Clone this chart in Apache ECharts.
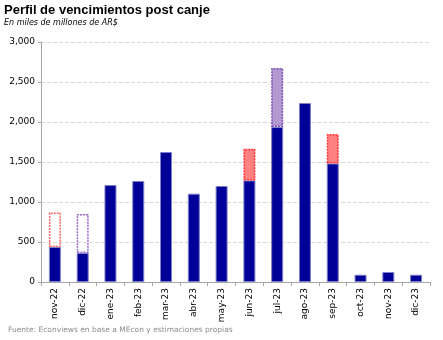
<!DOCTYPE html>
<html>
<head>
<meta charset="utf-8">
<script src="https://cdn.jsdelivr.net/npm/echarts@6/dist/echarts.min.js"></script>
<style>
html,body{margin:0;padding:0;background:#fff;}
#c{width:443px;height:340px;}
</style>
</head>
<body>
<div id="c"></div>
<script>
const categories = ['nov-22','dic-22','ene-23','feb-23','mar-23','abr-23','may-23','jun-23','jul-23','ago-23','sep-23','oct-23','nov-23','dic-23'];
const baseValues = [437, 362, 1212, 1262, 1625, 1104, 1200, 1270, 1937, 2237, 1482, 91, 125, 91];
const redOutline = [433, '-', '-', '-', '-', '-', '-', '-', '-', '-', '-', '-', '-', '-'];
const purpleOutline = ['-', 488, '-', '-', '-', '-', '-', '-', '-', '-', '-', '-', '-', '-'];
const redFill = ['-', '-', '-', '-', '-', '-', '-', 396, '-', '-', 368, '-', '-', '-'];
const purpleFill = ['-', '-', '-', '-', '-', '-', '-', '-', 738, '-', '-', '-', '-', '-'];
const yTicks = [0, 500, 1000, 1500, 2000, 2500, 3000];

const chart = echarts.init(document.getElementById('c'));
const font = 'Verdana, "DejaVu Sans", sans-serif';
const bw = 12;
chart.setOption({
  animation: false,
  textStyle: {fontFamily: font},
  title: [
    {text: 'Perfil de vencimientos post canje', left: 4, top: 4, padding: 0,
     textStyle: {fontFamily: '"Liberation Sans", Arial, sans-serif', fontSize: 13, fontWeight: 'bold', color: '#000'}},
    {text: 'En miles de millones de AR$', left: 4, top: 19, padding: 0,
     textStyle: {fontFamily: font, fontSize: 8, fontStyle: 'italic', fontWeight: 'normal', color: '#000'}},
    {text: 'Fuente: Econviews en base a MEcon y estimaciones propias', left: 8, top: 326, padding: 0,
     textStyle: {fontFamily: font, fontSize: 7.5, fontWeight: 'normal', color: '#8c8c8c'}}
  ],
  grid: {left: 41, right: 13, top: 42, bottom: 58},
  xAxis: {
    type: 'category', data: categories,
    axisLine: {lineStyle: {color: '#a6a6a6'}},
    axisTick: {show: true, length: 4, lineStyle: {color: '#a6a6a6'}},
    axisLabel: {rotate: 90, fontSize: 9, color: '#000', margin: 6, fontFamily: font}
  },
  yAxis: {
    type: 'value', min: yTicks[0], max: yTicks[yTicks.length - 1], interval: 500,
    axisLine: {show: true, lineStyle: {color: '#a6a6a6'}},
    axisTick: {show: true, length: 3, lineStyle: {color: '#a6a6a6'}},
    axisLabel: {fontSize: 9, color: '#000', margin: 6, fontFamily: font,
      formatter: v => v.toLocaleString('en-US')},
    splitLine: {lineStyle: {color: '#d9d9d9', type: [4, 2]}}
  },
  series: [
    {type: 'bar', stack: 's', data: baseValues, barWidth: bw,
     itemStyle: {color: '#000099', borderColor: '#8080c8', borderWidth: 1}},
    {type: 'bar', stack: 's', data: redOutline, barWidth: bw,
     itemStyle: {color: 'rgba(255,255,255,0)', borderColor: '#ff6666', borderWidth: 1.5, borderType: [2, 1]}},
    {type: 'bar', stack: 's', data: purpleOutline, barWidth: bw,
     itemStyle: {color: 'rgba(255,255,255,0)', borderColor: '#9966cc', borderWidth: 1.5, borderType: [2, 1]}},
    {type: 'bar', stack: 's', data: redFill, barWidth: bw,
     itemStyle: {color: '#ff8080', borderColor: '#ff3333', borderWidth: 1.5, borderType: [2, 1]}},
    {type: 'bar', stack: 's', data: purpleFill, barWidth: bw,
     itemStyle: {color: '#b399d1', borderColor: '#7f4fb5', borderWidth: 1.5, borderType: [2, 1]}}
  ]
});
</script>
</body>
</html>
